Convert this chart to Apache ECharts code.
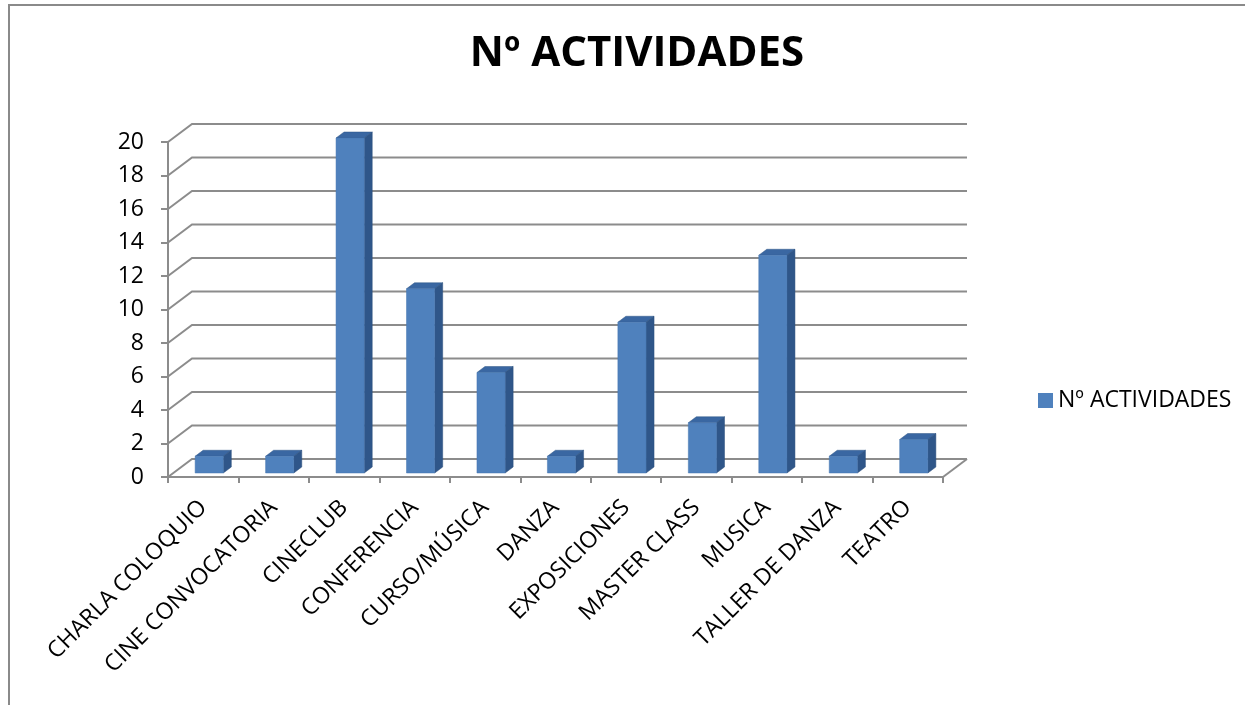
<!DOCTYPE html>
<html>
<head>
<meta charset="utf-8">
<script src="https://cdn.jsdelivr.net/npm/echarts@6/dist/echarts.min.js"></script>
<style>
  html, body { margin: 0; padding: 0; background: #fff; }
  #chart { width: 1245px; height: 705px; }
</style>
</head>
<body>
<div id="chart"></div>
<script>
// data
const categories = ['CHARLA COLOQUIO', 'CINE CONVOCATORIA', 'CINECLUB', 'CONFERENCIA', 'CURSO/MÚSICA',
  'DANZA', 'EXPOSICIONES', 'MASTER CLASS', 'MUSICA', 'TALLER DE DANZA', 'TEATRO'];
const actividades = [1, 1, 20, 11, 6, 1, 9, 3, 13, 1, 2];
const yTicks = [0, 2, 4, 6, 8, 10, 12, 14, 16, 18, 20];

const seriesName = 'Nº ACTIVIDADES';
const font = 'Open Sans';

// 3d look: back wall offset and bar depth
const wallDx = 24, wallDy = -18;
const barShiftX = 6, barShiftY = -4;
const barDx = 8, barDy = -6;

function renderWall(params, api) {
  let cs = params.coordSys;
  let v = api.value(0);
  let p = api.coord([0, v]);
  let y = p[1];
  let x0 = cs.x, x1 = cs.x + cs.width;
  let style = { stroke: '#8c8c8c', lineWidth: 2, fill: null };
  let children = [{
    type: 'polyline',
    shape: { points: [[x0, y], [x0 + wallDx, y + wallDy], [x1 + wallDx, y + wallDy]] },
    style: style
  }];
  if (v === 0) {
    children.push({
      type: 'line',
      shape: { x1: x1, y1: y, x2: x1 + wallDx, y2: y + wallDy },
      style: style
    });
  }
  return { type: 'group', children: children };
}

function renderBar(params, api) {
  let idx = api.value(0);
  let top = api.coord([idx, api.value(1)]);
  let base = api.coord([idx, 0]);
  let band = api.size([1, 0])[0];
  let w = band * 0.4;
  let l = top[0] - w / 2 + barShiftX;
  let r = l + w;
  let t = top[1] + barShiftY;
  let b = base[1] + barShiftY;
  return {
    type: 'group',
    children: [
      { type: 'polygon', shape: { points: [[l, t], [r, t], [r + barDx, t + barDy], [l + barDx, t + barDy]] },
        style: { fill: '#3a67a2', stroke: '#2e5687', lineWidth: 0.5 } },
      { type: 'polygon', shape: { points: [[r, t], [r + barDx, t + barDy], [r + barDx, b + barDy], [r, b]] },
        style: { fill: '#2f5689', stroke: '#2a4f7d', lineWidth: 0.5 } },
      { type: 'rect', shape: { x: l, y: t, width: w, height: b - t },
        style: { fill: '#4f81bd', stroke: '#4676b0', lineWidth: 0.5 } }
    ]
  };
}

let option = {
  backgroundColor: '#fff',
  animation: false,
  title: {
    text: seriesName,
    left: 632,
    textAlign: 'center',
    top: 28,
    textStyle: { fontFamily: font, fontSize: 42, fontWeight: 'bold', color: '#000' }
  },
  legend: {
    data: [{ name: seriesName, icon: 'rect' }],
    left: 1033,
    top: 384,
    itemWidth: 15,
    itemHeight: 15,
    itemGap: 8,
    textStyle: { fontFamily: font, fontSize: 23, color: '#000' }
  },
  graphic: [
    { type: 'polyline', shape: { points: [[9, 705], [9, 5], [1245, 5]] },
      style: { stroke: '#8a8a8a', lineWidth: 2, fill: null }, silent: true }
  ],
  grid: { left: 168, right: 302, top: 142, bottom: 228 },
  xAxis: {
    type: 'category',
    data: categories,
    axisLine: { lineStyle: { color: '#8c8c8c', width: 2 } },
    axisTick: { show: true, length: 6, alignWithLabel: false, lineStyle: { color: '#8c8c8c', width: 2 } },
    axisLabel: { interval: 0, rotate: 45, margin: 27, fontFamily: font, fontSize: 23, color: '#000' },
    splitLine: { show: false }
  },
  yAxis: {
    type: 'value',
    min: 0,
    max: 20,
    interval: 2,
    axisLine: { show: true, lineStyle: { color: '#8c8c8c', width: 2 } },
    axisTick: { show: true, length: 7, lineStyle: { color: '#8c8c8c', width: 2 } },
    axisLabel: { margin: 24, fontFamily: font, fontSize: 23, color: '#000' },
    splitLine: { show: false }
  },
  series: [
    {
      name: 'wall',
      type: 'custom',
      renderItem: renderWall,
      data: yTicks.map(v => [v]),
      encode: { y: 0 },
      silent: true,
      z: 1
    },
    {
      name: seriesName,
      type: 'custom',
      renderItem: renderBar,
      itemStyle: { color: '#4f81bd' },
      data: actividades.map((v, i) => [i, v]),
      encode: { x: 0, y: 1 },
      clip: false,
      z: 5
    }
  ]
};

let myChart = echarts.init(document.getElementById('chart'));
myChart.setOption(option);
</script>
</body>
</html>
